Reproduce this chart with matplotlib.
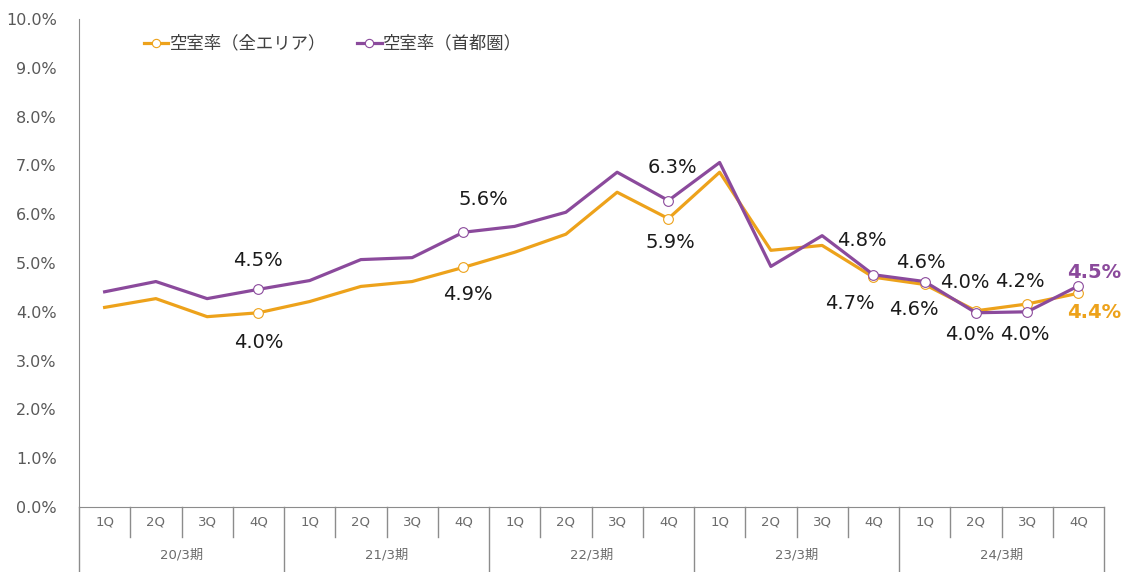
import matplotlib
matplotlib.use("Agg")
import matplotlib.pyplot as plt
import matplotlib.transforms as mtransforms

plt.rcParams['font.family'] = ['DejaVu Sans', 'Noto Sans CJK JP']

# data
quarters = ["1Q", "2Q", "3Q", "4Q"] * 5
years = ["20/3期", "21/3期", "22/3期", "23/3期", "24/3期"]
all_area = [4.09, 4.27, 3.90, 3.98, 4.21, 4.52, 4.62, 4.91, 5.22, 5.59,
            6.45, 5.91, 6.86, 5.26, 5.36, 4.71, 4.56, 4.02, 4.16, 4.38]
metro = [4.41, 4.62, 4.27, 4.46, 4.64, 5.07, 5.11, 5.63, 5.75, 6.04,
         6.86, 6.28, 7.06, 4.93, 5.56, 4.76, 4.62, 3.98, 4.00, 4.53]
marker_idx = [3, 7, 11, 15, 16, 17, 18, 19]

orange = "#EDA21B"
purple = "#8B4A9C"
grey = "#8C8C8C"

fig = plt.figure(figsize=(11.35, 5.72), dpi=100)
ax = fig.add_axes([79 / 1135, 65 / 572, 1025 / 1135, 488 / 572])

x = list(range(len(quarters)))
ax.plot(x, all_area, color=orange, lw=2.3, marker="o", markevery=marker_idx,
        ms=7, mfc="white", mec=orange, mew=0.8, label="空室率（全エリア）", zorder=3)
ax.plot(x, metro, color=purple, lw=2.3, marker="o", markevery=marker_idx,
        ms=7, mfc="white", mec=purple, mew=0.8, label="空室率（首都圏）", zorder=4)

ax.set_xlim(-0.5, len(x) - 0.5)
ax.set_ylim(0, 10)
ax.set_yticks(range(0, 11))
ax.set_yticklabels([f"{v:.1f}%" for v in range(0, 11)], color="#595959", fontsize=11.5)
ax.tick_params(axis="y", length=0, pad=16)
ax.set_xticks([])
for s in ["top", "right"]:
    ax.spines[s].set_visible(False)
ax.spines["left"].set_color(grey)
ax.spines["bottom"].set_color(grey)

# data labels (index, offset px)
purple_lbl = {3: (0, 29), 7: (20, 33), 11: (4, 33), 15: (-12, 34),
              16: (-4, 19), 17: (-6, -22), 18: (-2, -23)}
orange_lbl = {3: (0, -30), 7: (5, -27), 11: (2, -24), 15: (-23, -26),
              16: (-11, -25), 17: (-11, 28), 18: (-7, 22)}
for i, (dx, dy) in purple_lbl.items():
    ax.annotate(f"{metro[i]:.1f}%", (i, metro[i]), xytext=(dx, dy),
                textcoords="offset pixels", ha="center", va="center",
                fontsize=14, color="#1a1a1a")
for i, (dx, dy) in orange_lbl.items():
    ax.annotate(f"{all_area[i]:.1f}%", (i, all_area[i]), xytext=(dx, dy),
                textcoords="offset pixels", ha="center", va="center",
                fontsize=14, color="#1a1a1a")
ax.annotate(f"{metro[19]:.1f}%", (19, metro[19]), xytext=(16, 13),
            textcoords="offset pixels", ha="center", va="center",
            fontsize=14, color=purple, fontweight="bold")
ax.annotate(f"{all_area[19]:.1f}%", (19, all_area[19]), xytext=(16, -19),
            textcoords="offset pixels", ha="center", va="center",
            fontsize=14, color=orange, fontweight="bold")

# category axis below
tr = mtransforms.blended_transform_factory(ax.transData, ax.transAxes)
bot = -65 / 488
mid = -30 / 488
for k in range(len(x) + 1):
    y_end = bot if k % 4 == 0 else mid
    ax.plot([k - 0.5, k - 0.5], [0, y_end], color=grey, lw=1, transform=tr, clip_on=False)
for i, q in enumerate(quarters):
    ax.text(i, -15 / 488, q, transform=tr, ha="center", va="center",
            fontsize=9.5, color="#6b6b6b")
for j, yl in enumerate(years):
    ax.text(4 * j + 1.5, -48 / 488, yl, transform=tr, ha="center", va="center",
            fontsize=9.5, color="#6b6b6b")

leg = ax.legend(loc="upper left", bbox_to_anchor=(128 / 1135, 553 / 572),
                bbox_transform=fig.transFigure, ncol=2, frameon=False,
                handlelength=1.4, columnspacing=1.8, handletextpad=0.1,
                markerscale=0.85,
                prop={"family": ["Noto Sans CJK JP"], "size": 12.5})
for t in leg.get_texts():
    t.set_color("#404040")

fig.savefig("out.png", dpi=100)
